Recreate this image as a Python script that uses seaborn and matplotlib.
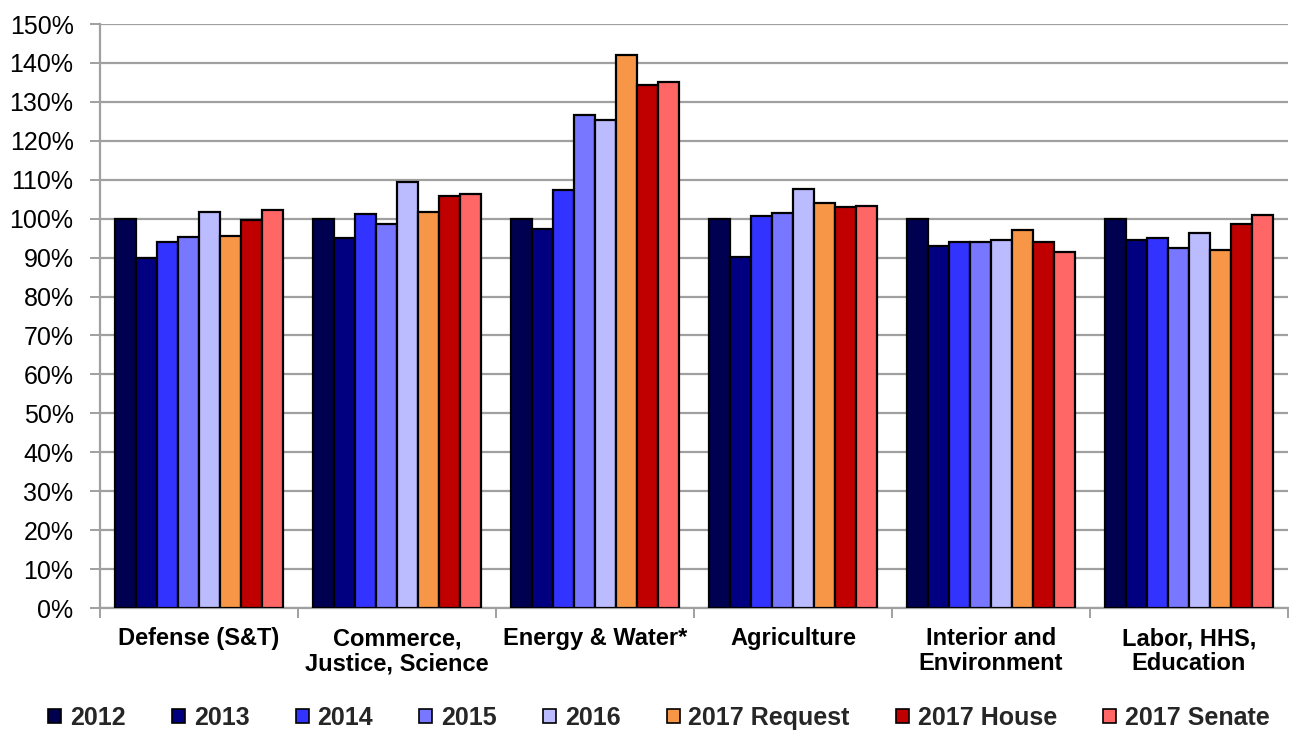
import matplotlib
matplotlib.use("Agg")
import matplotlib.pyplot as plt
from matplotlib.patches import Patch
from matplotlib.ticker import FixedLocator, FuncFormatter
import seaborn as sns
import pandas as pd
import numpy as np

# Appropriations relative to 2012 level (percent)
categories = [
    "Defense (S&T)",
    "Commerce,\nJustice, Science",
    "Energy & Water*",
    "Agriculture",
    "Interior and\nEnvironment",
    "Labor, HHS,\nEducation",
]
series = ["2012", "2013", "2014", "2015", "2016",
          "2017 Request", "2017 House", "2017 Senate"]

v2012 = [100.0, 100.0, 100.0, 100.0, 100.0, 100.0]
v2013 = [89.8, 95.0, 97.4, 90.2, 93.1, 94.5]
v2014 = [94.1, 101.1, 107.3, 100.6, 93.9, 95.0]
v2015 = [95.2, 98.6, 126.5, 101.4, 94.1, 92.5]
v2016 = [101.6, 109.3, 125.3, 107.7, 94.6, 96.3]
v2017_request = [95.6, 101.8, 142.1, 104.1, 97.2, 91.9]
v2017_house = [99.7, 105.7, 134.3, 103.0, 93.9, 98.7]
v2017_senate = [102.2, 106.3, 135.1, 103.3, 91.5, 100.9]

colors = ["#000050", "#000080", "#3333FF", "#7777FF", "#BBBBFF",
          "#F79646", "#C00000", "#FF6666"]

values_by_series = [v2012, v2013, v2014, v2015, v2016,
                    v2017_request, v2017_house, v2017_senate]

rows = []
for name, vals in zip(series, values_by_series):
    for cat, v in zip(categories, vals):
        rows.append({"category": cat, "series": name, "value": v})
df = pd.DataFrame(rows)

sns.set_theme(style="white")
plt.rcParams["font.family"] = ["Liberation Sans", "DejaVu Sans"]

fig = plt.figure(figsize=(12.89, 7.30), dpi=100)
ax = fig.add_axes([100 / 1289, 122 / 730, 1188 / 1289, 584 / 730])

sns.barplot(
    data=df, x="category", y="value", hue="series",
    order=categories, hue_order=series, palette=colors, saturation=1,
    width=0.845, edgecolor="black", linewidth=1.6,
    legend=False, ax=ax, zorder=3,
)

grid_color = "#A0A0A0"
ax.set_ylim(0, 150)
ax.set_xlim(-0.5, len(categories) - 0.5)
ax.yaxis.set_major_locator(FixedLocator(np.arange(0, 151, 10)))
ax.yaxis.set_major_formatter(FuncFormatter(lambda y, _: f"{y:.0f}%"))
ax.yaxis.grid(True, color=grid_color, linewidth=1.6)
ax.set_axisbelow(True)

ax.tick_params(axis="y", which="major", left=True, length=7, width=1.4,
               color=grid_color, pad=12, labelsize=18, labelcolor="black")
ax.xaxis.set_minor_locator(FixedLocator(np.arange(-0.5, len(categories), 1.0)))
ax.tick_params(axis="x", which="major", length=0, pad=14, labelsize=17,
               labelcolor="black")
ax.tick_params(axis="x", which="minor", bottom=True, length=7, width=1.4,
               color=grid_color)
for lbl in ax.get_xticklabels():
    lbl.set_fontweight("bold")
    lbl.set_linespacing(1.1)

for side in ["top", "right"]:
    ax.spines[side].set_visible(False)
for side in ["left", "bottom"]:
    ax.spines[side].set_color(grid_color)
    ax.spines[side].set_linewidth(1.6)

ax.set_xlabel("")
ax.set_ylabel("")

handles = [Patch(facecolor=c, edgecolor="black", linewidth=1.2) for c in colors]
fig.legend(
    handles, series, loc="center", bbox_to_anchor=(659 / 1289, 12 / 730),
    ncol=len(series), frameon=False,
    prop={"weight": "bold", "size": 18},
    handlelength=0.52, handleheight=0.52, handletextpad=0.35,
    columnspacing=1.85, borderaxespad=0, borderpad=0,
)

fig.savefig("out.png", dpi=100)
